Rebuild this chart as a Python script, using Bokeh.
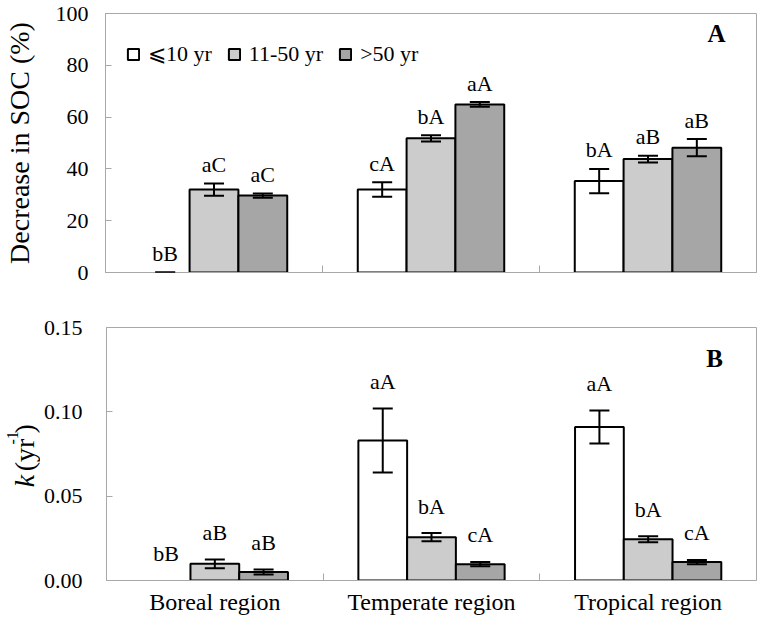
import math
from bokeh.plotting import figure
from bokeh.models import (ColumnDataSource, Range1d, FixedTicker, Whisker, TeeHead,
                          Label, Legend, LegendItem, NumeralTickFormatter, BasicTickFormatter)
from bokeh.layouts import column, row
from bokeh.embed import file_html
from bokeh.resources import INLINE
from bokeh.core.properties import value

NAN = float("nan")

regions = ["Boreal region", "Temperate region", "Tropical region"]
ages = ["\u2a7d10 yr", "11-50 yr", ">50 yr"]

# Panel A: decrease in SOC (%)
soc_le10 = [0.0, 32.0, 35.3]
soc_le10_err = [0.0, 2.8, 4.7]
soc_11_50 = [32.0, 51.8, 43.8]
soc_11_50_err = [2.4, 1.2, 1.3]
soc_gt50 = [29.7, 64.9, 48.2]
soc_gt50_err = [0.8, 0.9, 3.3]
soc_let_le10 = ["bB", "cA", "bA"]
soc_let_11_50 = ["aC", "bA", "aB"]
soc_let_gt50 = ["aC", "aA", "aB"]
soc_ticks = [0, 20, 40, 60, 80, 100]

# Panel B: decay constant k (yr-1)
k_le10 = [0.0, 0.083, 0.091]
k_le10_err = [NAN, 0.019, 0.0098]
k_11_50 = [0.0099, 0.0257, 0.0245]
k_11_50_err = [0.0026, 0.0024, 0.0018]
k_gt50 = [0.0050, 0.0097, 0.0109]
k_gt50_err = [0.0015, 0.0013, 0.0013]
k_let_le10 = ["bB", "aA", "aA"]
k_let_11_50 = ["aB", "bA", "bA"]
k_let_gt50 = ["aB", "cA", "cA"]
k_ticks = [0.0, 0.05, 0.10, 0.15]

FONT = "'Liberation Serif', 'Times New Roman', serif"
FILLS = ["#ffffff", "#cccccc", "#a6a6a6"]
GRAY = "#a8a8a8"
BAR_W = 0.225


def make_panel(vals_list, errs_list, lets_list, y_end, ticks, fmt, gap, width, height,
               b_left, b_top, b_bottom, tick_standoff, x_labels):
    p = figure(width=width, height=height, x_range=Range1d(0, 3), y_range=Range1d(0, y_end),
               output_backend="svg", toolbar_location=None,
               min_border_left=b_left, min_border_right=1,
               min_border_top=b_top, min_border_bottom=b_bottom)
    p.background_fill_color = "white"
    p.border_fill_color = "white"
    p.outline_line_color = GRAY
    p.outline_line_width = 1
    p.xgrid.visible = False
    p.ygrid.visible = False

    rends = []
    for j, (vals, errs, lets) in enumerate(zip(vals_list, errs_list, lets_list)):
        xs = [i + 0.5 + (j - 1) * BAR_W for i in range(len(regions))]
        bx = [x for x, v in zip(xs, vals) if v > 0]
        bt = [v for v in vals if v > 0]
        r = p.vbar(x=bx, top=bt, bottom=0, width=BAR_W, fill_color=FILLS[j],
                   line_color="black", line_width=2)
        rends.append(r)
        ex = [x for x, e in zip(xs, errs) if not math.isnan(e)]
        ev = [v for v, e in zip(vals, errs) if not math.isnan(e)]
        ee = [e for e in errs if not math.isnan(e)]
        wsrc = ColumnDataSource(dict(base=ex, upper=[v + e for v, e in zip(ev, ee)],
                                     lower=[v - e for v, e in zip(ev, ee)]))
        wh = Whisker(source=wsrc, base="base", upper="upper", lower="lower",
                     line_color="black", line_width=2, level="annotation",
                     upper_head=TeeHead(size=20, line_color="black", line_width=2),
                     lower_head=TeeHead(size=20, line_color="black", line_width=2))
        p.add_layout(wh)
        ly = [v + (0 if math.isnan(e) else e) for v, e in zip(vals, errs)]
        p.text(x=xs, y=ly, text=lets, text_font=value(FONT), text_font_size="22px",
               text_align="center", text_baseline="middle", y_offset=-gap,
               text_color="black")

    ax = p.yaxis[0]
    ax.ticker = FixedTicker(ticks=ticks)
    ax.formatter = fmt
    ax.major_tick_in = 6
    ax.major_tick_out = 0
    ax.minor_tick_in = 0
    ax.minor_tick_out = 0
    ax.axis_line_color = GRAY
    ax.major_tick_line_color = GRAY
    ax.major_label_text_font = FONT
    ax.major_label_text_font_size = "22px"
    ax.major_label_text_color = "black"
    ax.major_label_standoff = tick_standoff

    xa = p.xaxis[0]
    xa.ticker = FixedTicker(ticks=[0.5, 1.5, 2.5], minor_ticks=[1, 2])
    xa.major_tick_in = 0
    xa.major_tick_out = 0
    xa.minor_tick_in = 7
    xa.minor_tick_out = 0
    xa.minor_tick_line_color = GRAY
    xa.axis_line_color = GRAY
    xa.major_label_text_font = FONT
    xa.major_label_text_color = "black"
    xa.axis_label_standoff = 0
    if x_labels:
        xa.major_label_overrides = {0.5: regions[0], 1.5: regions[1], 2.5: regions[2]}
        xa.major_label_text_font_size = "24px"
        xa.major_label_standoff = 8
    else:
        xa.major_label_overrides = {0.5: "", 1.5: "", 2.5: ""}
        xa.major_label_text_font_size = "0px"
        xa.major_label_standoff = 0
    return p, rends


# ---------------- Panel A ----------------
pA, rA = make_panel([soc_le10, soc_11_50, soc_gt50],
                    [soc_le10_err, soc_11_50_err, soc_gt50_err],
                    [soc_let_le10, soc_let_11_50, soc_let_gt50],
                    100, soc_ticks, BasicTickFormatter(), 19, 757, 308,
                    99, 13, 36, 17, False)
pA.yaxis[0].axis_label = "Decrease in SOC (%)"
pA.yaxis[0].axis_label_text_font = FONT
pA.yaxis[0].axis_label_text_font_size = "28px"
pA.yaxis[0].axis_label_text_font_style = "normal"
pA.yaxis[0].axis_label_text_color = "black"
pA.yaxis[0].axis_label_standoff = 18

legend = Legend(items=[LegendItem(label=ages[j], renderers=[rA[j]]) for j in range(3)],
                orientation="horizontal", location=(21, 205),
                glyph_width=14, glyph_height=14, label_standoff=8, spacing=15,
                padding=0, margin=0, border_line_color=None, background_fill_alpha=0,
                label_text_font=FONT, label_text_font_size="22px", label_text_color="black")
pA.add_layout(legend)
pA.add_layout(Label(x=716, y=33, x_units="canvas", y_units="canvas", text="A",
                    text_font=FONT, text_font_size="25px", text_font_style="bold",
                    text_align="center", text_baseline="middle", text_color="black"))

# ---------------- Panel B ----------------
pB, rB = make_panel([k_le10, k_11_50, k_gt50],
                    [k_le10_err, k_11_50_err, k_gt50_err],
                    [k_let_le10, k_let_11_50, k_let_gt50],
                    0.15, k_ticks, NumeralTickFormatter(format="0.00"), 27, 717, 309,
                    66, 19, 36, 24, True)
pB.add_layout(Label(x=674, y=50, x_units="canvas", y_units="canvas", text="B",
                    text_font=FONT, text_font_size="25px", text_font_style="bold",
                    text_align="center", text_baseline="middle", text_color="black"))

# y-axis title of panel B drawn in a narrow strip: italic k, (yr, superscript -1, )
KW, KH = 40, 309
kfig = figure(width=KW, height=KH, x_range=Range1d(0, KW), y_range=Range1d(0, KH),
              output_backend="svg", toolbar_location=None,
              x_axis_type=None, y_axis_type=None, min_border=0)
kfig.outline_line_color = None
kfig.grid.visible = False
kfig.background_fill_color = "white"
kfig.border_fill_color = "white"
ang = math.pi / 2
base_x = 23.5
cy = 114
pieces = [("k", "28px", "italic", 0, (0.444 + 0.25) * 28),
          ("(yr", "28px", "normal", 0, 1.166 * 28),
          ("-1", "16px", "normal", 11.5, 0.833 * 16),
          (")", "28px", "normal", 0, 0.333 * 28)]
for txt, fs, st, raise_px, wdt in pieces:
    kfig.text(x=[base_x - raise_px], y=[cy], text=[txt], angle=ang,
              text_font=value(FONT), text_font_size=fs, text_font_style=st,
              text_align="left", text_baseline="alphabetic", text_color="black")
    cy += wdt

layout = column(pA, row(kfig, pB))
open("out.html", "w").write(file_html(layout, INLINE))
